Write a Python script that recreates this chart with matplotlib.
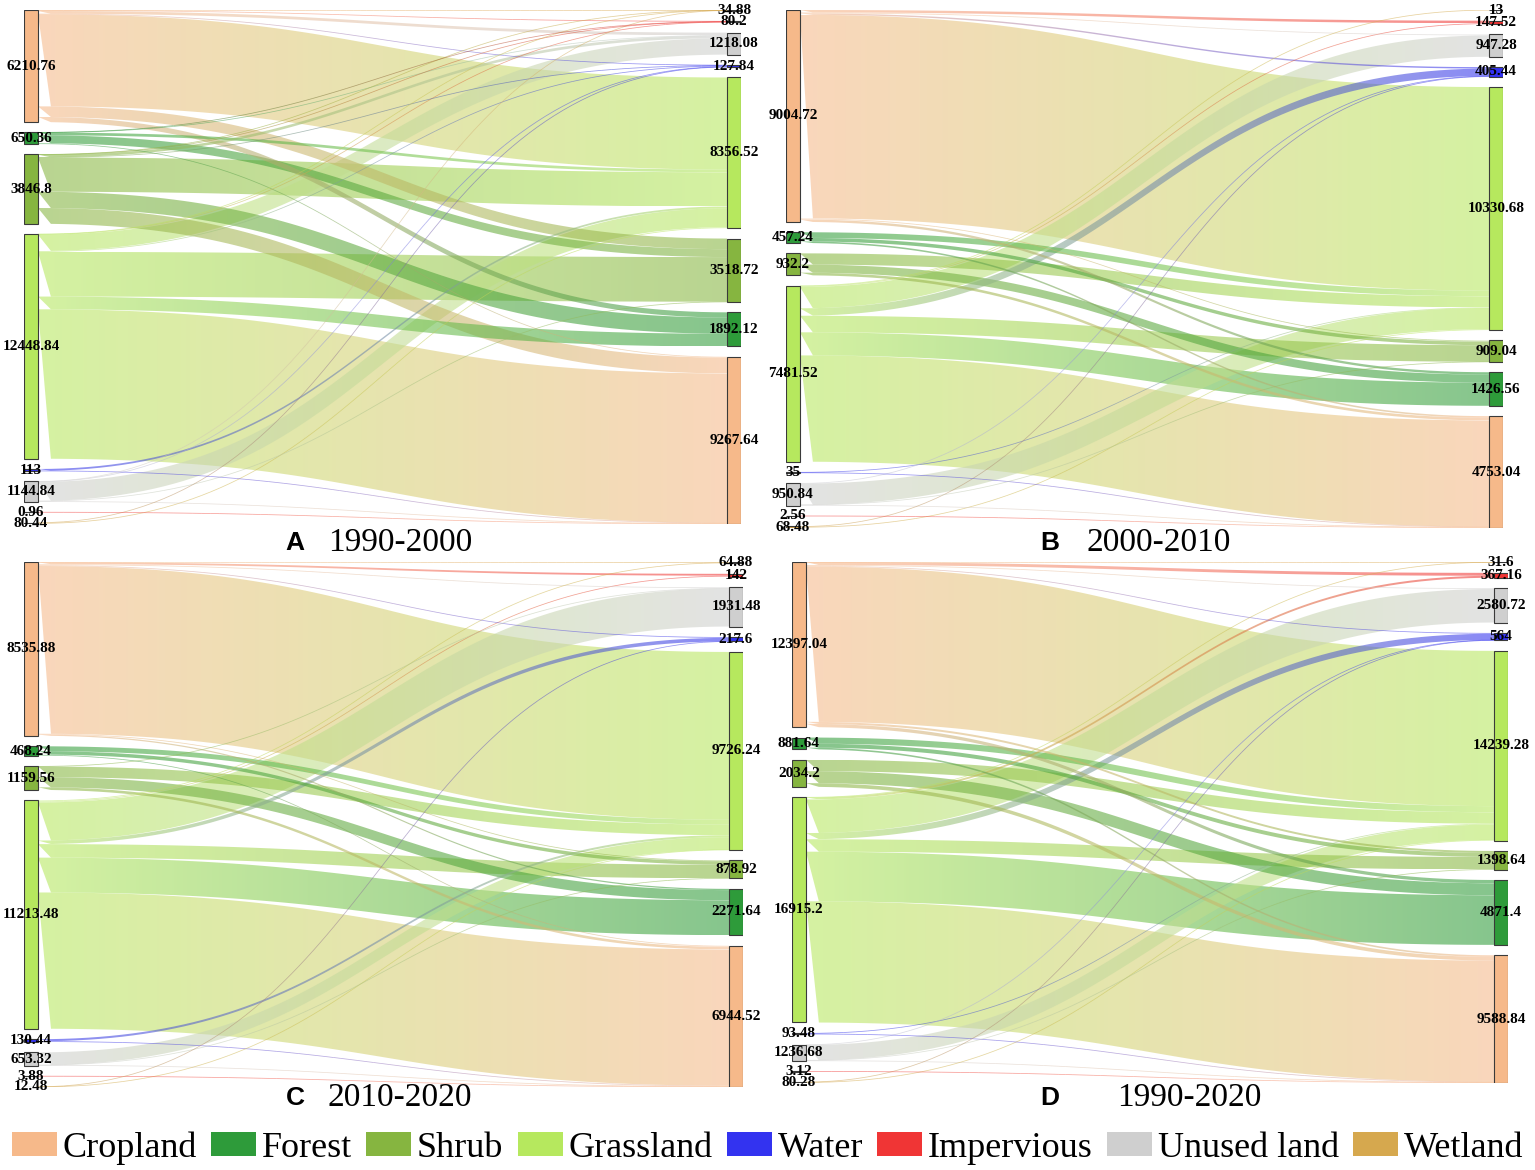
import numpy as np
import matplotlib
matplotlib.use("Agg")
import matplotlib.pyplot as plt
from matplotlib.path import Path
from matplotlib.patches import PathPatch, Rectangle, Patch
from matplotlib.collections import LineCollection
from matplotlib.colors import to_rgb

plt.rcParams['font.family'] = ['Liberation Serif', 'DejaVu Serif']

# --- classes (order of the left column, top -> bottom) ---
classes = ["Cropland", "Forest", "Shrub", "Grassland", "Water", "Unused land", "Impervious", "Wetland"]
colors = ["#F6B98A", "#2E9B3A", "#86B540", "#B6E85E", "#3333F0", "#CFCFCF", "#F03535", "#D6A84E"]
legend_order = ["Cropland", "Forest", "Shrub", "Grassland", "Water", "Impervious", "Unused land", "Wetland"]

# --- node values (class order) ---
left_A = [6210.76, 650.36, 3846.8, 12448.84, 113, 1144.84, 0.96, 80.44]
right_A = [9267.64, 1892.12, 3518.72, 8356.52, 127.84, 1218.08, 80.2, 34.88]
left_B = [9004.72, 457.24, 932.2, 7481.52, 35, 950.84, 2.56, 68.48]
right_B = [4753.04, 1426.56, 909.04, 10330.68, 405.44, 947.28, 147.52, 13]
left_C = [8535.88, 468.24, 1159.56, 11213.48, 130.44, 653.32, 3.88, 12.48]
right_C = [6944.52, 2271.64, 878.92, 9726.24, 217.6, 1931.48, 142, 64.88]
left_D = [12397.04, 881.64, 2034.2, 16915.2, 93.48, 1236.68, 3.12, 80.28]
right_D = [9588.84, 4871.4, 1398.64, 14239.28, 564, 2580.72, 367.16, 31.6]

# --- transfer flows (rows = from, cols = to, class order), estimated ---
flows_A = [
    [0, 286.12, 585.56, 5101.4, 30, 152.64, 43.2, 11.84],
    [47.36, 0, 440, 150, 0, 10, 3, 0],
    [875.68, 900, 0, 1895.12, 10, 150, 6, 10],
    [8280.2, 706, 2473.16, 0, 52.84, 905.44, 28, 3.2],
    [13, 0, 0, 100, 0, 0, 0, 0],
    [45, 0, 20, 1050, 20, 0, 0, 9.84],
    [0.96, 0, 0, 0, 0, 0, 0, 0],
    [5.44, 0, 0, 60, 15, 0, 0, 0],
]
flows_B = [
    [0, 100, 50, 8650, 60, 40, 104.72, 0],
    [67.24, 0, 150, 240, 0, 0, 0, 0],
    [112.2, 344.32, 0, 475.68, 0, 0, 0, 0],
    [4516.72, 982.24, 704.04, 0, 315.44, 907.28, 42.8, 13],
    [10, 0, 0, 25, 0, 0, 0, 0],
    [30.84, 0, 5, 900, 15, 0, 0, 0],
    [2.56, 0, 0, 0, 0, 0, 0, 0],
    [13.48, 0, 0, 40, 15, 0, 0, 0],
]
flows_C = [
    [0, 60, 40, 8238.24, 40, 50, 90, 17.64],
    [58.24, 0, 170, 240, 0, 0, 0, 0],
    [129.56, 500, 0, 520, 0, 10, 0, 0],
    [6691.6, 1711.64, 663.92, 0, 175.6, 1871.48, 52, 47.24],
    [30.44, 0, 0, 100, 0, 0, 0, 0],
    [28.32, 0, 5, 620, 0, 0, 0, 0],
    [3.88, 0, 0, 0, 0, 0, 0, 0],
    [2.48, 0, 0, 8, 2, 0, 0, 0],
]
flows_D = [
    [0, 245.72, 150, 11654.28, 60, 60, 217.04, 10],
    [121.64, 0, 300, 460, 0, 0, 0, 0],
    [274.2, 900, 0, 860, 0, 0, 0, 0],
    [9099.44, 3725.68, 933.64, 0, 464, 2520.72, 150.12, 21.6],
    [23.48, 0, 0, 70, 0, 0, 0, 0],
    [46.68, 0, 15, 1150, 25, 0, 0, 0],
    [3.12, 0, 0, 0, 0, 0, 0, 0],
    [20.28, 0, 0, 45, 15, 0, 0, 0],
]

W, H = 1535, 1170


def fmt(v):
    return ('%.2f' % v).rstrip('0').rstrip('.')


def draw_panel(ax, left, right, flows, gap=0.02, nw=0.0195, hpx=514):
    n = len(classes)
    k = (1 - gap * (n - 1)) / sum(left)
    ly, y = [], 0
    for v in left:
        ly.append(y)
        y += v * k + gap
    ry, y = [0] * n, 0
    for j in reversed(range(n)):
        ry[j] = y
        y += right[j] * k + gap

    # where each flow sits inside its source / target node
    s_top, t_top = {}, {}
    for i in range(n):
        off = ly[i]
        for j in reversed(range(n)):
            if flows[i][j] > 0:
                s_top[(i, j)] = off
                off += flows[i][j] * k
    for j in range(n):
        off = ry[j]
        for i in range(n):
            if flows[i][j] > 0:
                t_top[(i, j)] = off
                off += flows[i][j] * k

    x0, x1, xm = nw, 1 - nw, 0.5
    t = np.linspace(0, 1, 80)
    bx = (1 - t) ** 3 * x0 + 3 * (1 - t) ** 2 * t * xm + 3 * (1 - t) * t ** 2 * xm + t ** 3 * x1
    s = 3 * (1 - t) * t ** 2 + t ** 3

    order = sorted(s_top.keys(), key=lambda ij: -flows[ij[0]][ij[1]])
    for (i, j) in order:
        h = flows[i][j] * k
        a, b = s_top[(i, j)], t_top[(i, j)]
        ytop = a + (b - a) * s
        ybot = ytop + h
        c0, c1 = np.array(to_rgb(colors[i])), np.array(to_rgb(colors[j]))
        if h * hpx >= 1.2:
            verts = np.vstack([np.column_stack([bx, ytop]), np.column_stack([bx[::-1], ybot[::-1]])])
            patch = PathPatch(Path(verts, closed=True), facecolor='none', edgecolor='none',
                              transform=ax.transData)
            ax.add_patch(patch)
            g = np.linspace(0, 1, 128)[:, None]
            grad = np.ones((1, 128, 4))
            grad[0, :, :3] = c0 * (1 - g) + c1 * g
            grad[0, :, 3] = 0.58
            im = ax.imshow(grad, extent=(x0, x1, ybot.max(), ytop.min()), aspect='auto',
                           interpolation='bilinear', zorder=1)
            im.set_clip_path(patch)
        else:
            # very small transfers: thin gradient line
            yc = ytop + h / 2
            pts = np.column_stack([bx, yc]).reshape(-1, 1, 2)
            segs = np.concatenate([pts[:-1], pts[1:]], axis=1)
            tt = (t[:-1] + t[1:]) / 2
            cols = c0 * (1 - tt[:, None]) + c1 * tt[:, None]
            lc = LineCollection(segs, colors=cols, linewidths=0.55, alpha=0.55, zorder=2)
            ax.add_collection(lc)

    for i in range(n):
        ax.add_patch(Rectangle((0, ly[i]), nw, left[i] * k, facecolor=colors[i],
                               edgecolor='#3a3a3a', lw=0.8, zorder=3))
        ax.text(nw / 2, ly[i] + left[i] * k / 2, fmt(left[i]), ha='center', va='center',
                fontsize=11, fontweight='bold', zorder=4)
        ax.add_patch(Rectangle((1 - nw, ry[i]), nw, right[i] * k, facecolor=colors[i],
                               edgecolor='#3a3a3a', lw=0.8, zorder=3))
        ax.text(1 - nw / 2, ry[i] + right[i] * k / 2, fmt(right[i]), ha='center', va='center',
                fontsize=11, fontweight='bold', zorder=4)
    ax.set_xlim(0, 1)
    ax.set_ylim(1, 0)
    ax.axis('off')


fig = plt.figure(figsize=(W / 100, H / 100), dpi=100)

panels = [
    # panel box in pixels (x_left, x_right, y_top, y_bottom), data, letter, period, letter x, period x, title y
    ((24, 741, 10, 524), left_A, right_A, flows_A, "A", "1990-2000", 295, 400, 543),
    ((786, 1503, 10, 528), left_B, right_B, flows_B, "B", "2000-2010", 1050, 1159, 543),
    ((24, 743, 562, 1087), left_C, right_C, flows_C, "C", "2010-2020", 295, 400, 1098),
    ((792, 1508, 562, 1083), left_D, right_D, flows_D, "D", "1990-2020", 1050, 1189, 1098),
]

for (xl, xr, yt, yb), lv, rv, fl, letter, period, lx, px, ty in panels:
    ax = fig.add_axes([xl / W, (H - yb) / H, (xr - xl) / W, (yb - yt) / H])
    draw_panel(ax, lv, rv, fl, hpx=yb - yt)
    fig.text(lx / W, 1 - ty / H, letter, ha='center', va='center', fontsize=19,
             fontweight='bold', family='Liberation Sans')
    fig.text(px / W, 1 - ty / H, period, ha='center', va='center', fontsize=24)

handles = [Patch(facecolor=colors[classes.index(c)], edgecolor='none') for c in legend_order]
fig.legend(handles, legend_order, loc='center', bbox_to_anchor=(0.5, 1 - 1148 / H), ncol=8,
           frameon=False, fontsize=26, handlelength=1.25, handleheight=0.64,
           handletextpad=0.15, columnspacing=0.4, borderpad=0, borderaxespad=0)

fig.savefig("out.png", dpi=100)
